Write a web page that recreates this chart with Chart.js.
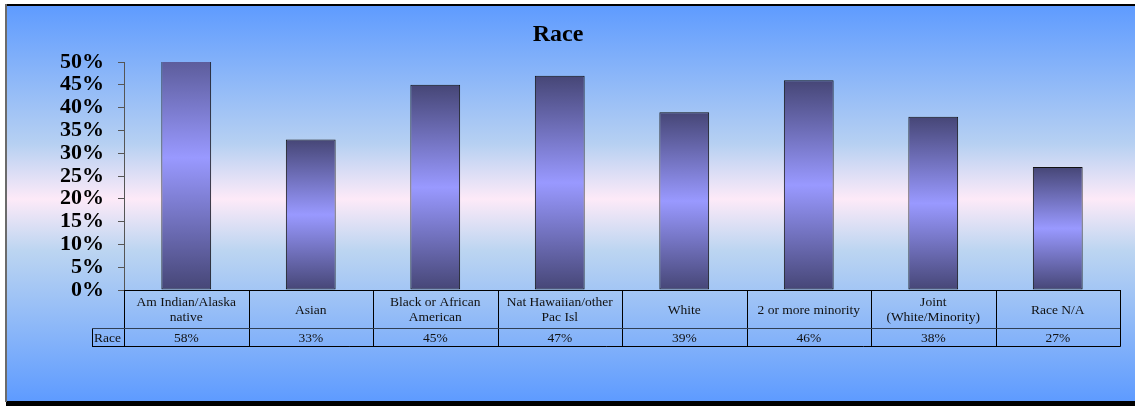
<!DOCTYPE html>
<html>
<head>
<meta charset="utf-8">
<script src="https://cdn.jsdelivr.net/npm/chart.js@4/dist/chart.umd.min.js"></script>
<style>
  html, body { margin: 0; padding: 0; background: #ffffff; }
  #wrap { width: 1135px; height: 406px; position: relative; }
</style>
</head>
<body>
<div id="wrap"><canvas id="raceChart"></canvas></div>
<script>
// chart data
const categories = [
  ['Am Indian/Alaska', 'native'],
  ['Asian'],
  ['Black or African', 'American'],
  ['Nat Hawaiian/other', 'Pac Isl'],
  ['White'],
  ['2 or more minority'],
  ['Joint', '(White/Minority)'],
  ['Race N/A']
];
const seriesName = 'Race';
const raceValues = [58, 33, 45, 47, 39, 46, 38, 27];
const yTicks = [0, 5, 10, 15, 20, 25, 30, 35, 40, 45, 50];

const SERIF = '"Liberation Serif", "Times New Roman", serif';

// background gradient, frame, title
const backdrop = {
  id: 'backdrop',
  beforeDraw(chart) {
    const { ctx, width } = chart;
    ctx.save();
    const g = ctx.createLinearGradient(0, 5, 0, 401);
    g.addColorStop(0, '#5e9bff');
    g.addColorStop(0.35, '#b6d0f2');
    g.addColorStop(0.49, '#fdeaf8');
    g.addColorStop(0.62, '#bcd5f1');
    g.addColorStop(1, '#5e9bff');
    ctx.fillStyle = g;
    ctx.fillRect(6, 5, width - 6, 396);
    ctx.restore();
  },
  afterDraw(chart) {
    const { ctx, width } = chart;
    ctx.save();
    // frame
    ctx.fillStyle = '#000';
    ctx.fillRect(6, 4, width - 6, 2);
    ctx.fillRect(6, 401, width - 6, 5);
    ctx.fillStyle = '#6b6b6b';
    ctx.fillRect(5, 4, 2, 398);
    // title
    ctx.fillStyle = '#000';
    ctx.font = 'bold 24px ' + SERIF;
    ctx.textAlign = 'center';
    ctx.textBaseline = 'middle';
    ctx.fillText('Race', 558, 35);
    ctx.restore();
  }
};

// data table under the bars
const dataTable = {
  id: 'dataTable',
  afterDraw(chart) {
    const { ctx, chartArea } = chart;
    const xs = chart.scales.x;
    const n = categories.length;
    const left = chartArea.left;
    const right = chartArea.right;
    const colW = (right - left) / n;
    const top = chartArea.bottom;
    const mid = top + 38;
    const bottom = mid + 18;
    const labelLeft = 92;
    ctx.save();
    ctx.strokeStyle = '#000';
    ctx.lineWidth = 1;
    ctx.beginPath();
    ctx.moveTo(right + 0.5, top); ctx.lineTo(right + 0.5, bottom + 0.5);
    ctx.moveTo(labelLeft, bottom + 0.5); ctx.lineTo(right + 0.5, bottom + 0.5);
    ctx.moveTo(labelLeft + 0.5, mid); ctx.lineTo(labelLeft + 0.5, bottom + 0.5);
    ctx.moveTo(right, top + 0.5); ctx.lineTo(left, top + 0.5);
    for (let i = 0; i < n; i++) {
      const x = Math.round(left + i * colW) + 0.5;
      ctx.moveTo(x, top); ctx.lineTo(x, bottom);
    }
    ctx.stroke();
    ctx.strokeStyle = '#2f3f55';
    ctx.beginPath();
    ctx.moveTo(labelLeft, mid + 0.5); ctx.lineTo(right, mid + 0.5);
    ctx.stroke();

    ctx.fillStyle = '#111';
    ctx.font = '13.5px ' + SERIF;
    ctx.textAlign = 'center';
    ctx.textBaseline = 'middle';
    categories.forEach((lines, i) => {
      const cx = xs.getPixelForValue(i);
      const cy = (top + mid) / 2 + 1;
      const lh = 15;
      lines.forEach((t, k) => {
        ctx.fillText(t, cx, cy + (k - (lines.length - 1) / 2) * lh);
      });
      ctx.fillText(raceValues[i] + '%', cx, (mid + bottom) / 2 + 1);
    });
    ctx.textAlign = 'left';
    ctx.fillText(seriesName, labelLeft + 2, (mid + bottom) / 2 + 1);
    ctx.restore();
  }
};

function barGradient(context) {
  const chart = context.chart;
  const area = chart.chartArea;
  if (!area) return '#8080d0';
  const y = chart.scales.y;
  const v = context.raw;
  const y0 = y.getPixelForValue(0);
  const y1 = y.getPixelForValue(v);
  const g = chart.ctx.createLinearGradient(0, y1, 0, y0);
  g.addColorStop(0, '#464676');
  g.addColorStop(0.5, '#9999ff');
  g.addColorStop(1, '#464676');
  return g;
}

new Chart(document.getElementById('raceChart'), {
  type: 'bar',
  data: {
    labels: categories.map(c => c.join(' ')),
    datasets: [{
      label: seriesName,
      data: raceValues,
      backgroundColor: barGradient,
      borderColor: '#111',
      borderWidth: 1,
      borderSkipped: false,
      barPercentage: 0.4,
      categoryPercentage: 1.0
    }]
  },
  options: {
    responsive: true,
    maintainAspectRatio: false,
    animation: false,
    layout: { padding: { top: 62, bottom: 116, left: 0, right: 15 } },
    plugins: {
      legend: { display: false },
      tooltip: { enabled: false },
      title: { display: false }
    },
    scales: {
      x: { display: false },
      y: {
        min: 0,
        max: 50,
        afterFit(scale) { scale.width = 124; },
        afterBuildTicks(scale) { scale.ticks = yTicks.map(v => ({ value: v })); },
        border: { display: true, color: '#555', width: 1 },
        grid: { drawOnChartArea: false, tickLength: 6, color: '#555' },
        ticks: {
          autoSkip: false,
          color: '#000',
          padding: 14,
          font: { family: SERIF, size: 22, weight: 'bold' },
          callback: v => v + '%'
        }
      }
    }
  },
  plugins: [backdrop, dataTable]
});
</script>
</body>
</html>
